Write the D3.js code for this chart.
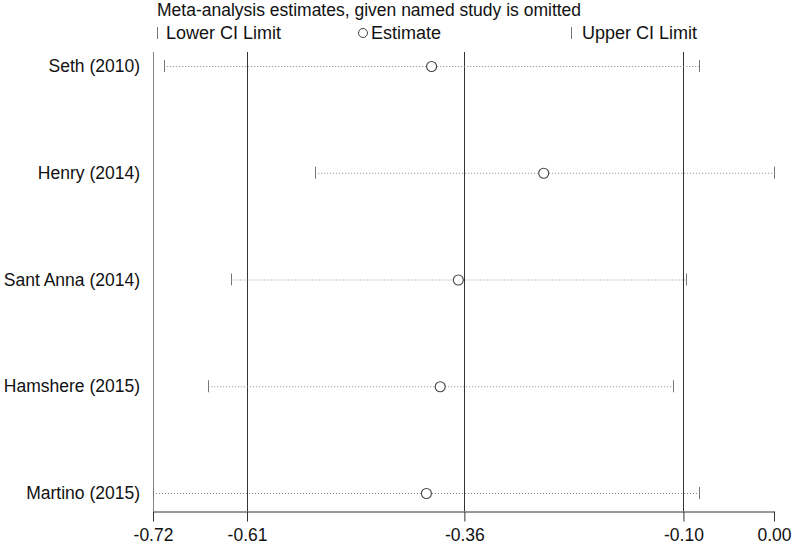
<!DOCTYPE html>
<html><head><meta charset="utf-8">
<script src="https://cdn.jsdelivr.net/npm/d3@7"></script>
<style>body{margin:0;background:#fff}svg{display:block;font-family:"Liberation Sans",Arial,sans-serif}</style>
</head><body><svg id="c" width="797" height="544"></svg>
<script>
const studies = ["Seth (2010)", "Henry (2014)", "Sant Anna (2014)", "Hamshere (2015)", "Martino (2015)"];
const lower = [-0.707, -0.532, -0.629, -0.656, -0.720];
const estimate = [-0.397, -0.267, -0.366, -0.387, -0.403];
const upper = [-0.087, 0.000, -0.102, -0.117, -0.087];
const refLines = [-0.72, -0.611, -0.359, -0.105];
const tickValues = [-0.72, -0.611, -0.359, -0.105, 0.00];
const tickLabels = ["-0.72", "-0.61", "-0.36", "-0.10", "0.00"];

const FS = 17.5;
const svg = d3.select("#c");
const x = d3.scaleLinear().domain([-0.72, 0]).range([153, 774]);
const y = d3.scalePoint().domain(studies).range([66, 493]);
const axisY = 511;

// title & legend
svg.append("text").attr("x", 157).attr("y", 16).attr("font-size", FS).attr("fill", "#111")
  .text("Meta-analysis estimates, given named study is omitted");
const leg = svg.append("g").attr("font-size", 18).attr("fill", "#111");
leg.append("line").attr("x1", 157.5).attr("x2", 157.5).attr("y1", 27).attr("y2", 39).attr("stroke", "#777");
leg.append("text").attr("x", 166).attr("y", 39).text("Lower CI Limit");
leg.append("circle").attr("cx", 363).attr("cy", 33).attr("r", 4.5).attr("fill", "none").attr("stroke", "#444");
leg.append("text").attr("x", 371).attr("y", 39).text("Estimate");
leg.append("line").attr("x1", 571.5).attr("x2", 571.5).attr("y1", 27).attr("y2", 39).attr("stroke", "#777");
leg.append("text").attr("x", 582).attr("y", 39).text("Upper CI Limit");

// reference vertical lines
svg.selectAll("line.ref").data(refLines).join("line").attr("class", "ref")
  .attr("x1", d => Math.round(x(d)) + 0.5).attr("x2", d => Math.round(x(d)) + 0.5)
  .attr("y1", 52).attr("y2", axisY)
  .attr("stroke", (d, i) => i === 0 ? "#888" : "#333").attr("stroke-width", 1);

// axis
const ax = svg.append("g").attr("transform", `translate(0,${axisY + 0.5})`)
  .call(d3.axisBottom(x).tickValues(tickValues).tickFormat((d, i) => tickLabels[i]).tickSize(10).tickSizeOuter(0));
ax.select(".domain").attr("stroke", "#333");
ax.selectAll(".tick line").attr("stroke", "#333");
ax.selectAll(".tick text").attr("font-size", FS).attr("fill", "#111").attr("dy", "0.95em")
  .attr("font-family", '"Liberation Sans",Arial,sans-serif');

// study labels
svg.selectAll("text.lab").data(studies).join("text").attr("class", "lab")
  .attr("x", 140).attr("y", d => y(d)).attr("dy", "0.35em").attr("text-anchor", "end")
  .attr("font-size", FS).attr("fill", "#111").text(d => d);

const rows = svg.selectAll("g.row").data(studies).join("g").attr("class", "row");
rows.append("line")
  .attr("x1", (d, i) => x(lower[i])).attr("x2", (d, i) => x(upper[i]))
  .attr("y1", d => y(d) + 0.5).attr("y2", d => y(d) + 0.5)
  .attr("stroke", "#888").attr("stroke-dasharray", "1,2");
rows.append("line")
  .attr("x1", (d, i) => Math.round(x(lower[i])) + 0.5).attr("x2", (d, i) => Math.round(x(lower[i])) + 0.5)
  .attr("y1", d => y(d) - 6).attr("y2", d => y(d) + 6).attr("stroke", "#777");
rows.append("line")
  .attr("x1", (d, i) => Math.round(x(upper[i])) + 0.5).attr("x2", (d, i) => Math.round(x(upper[i])) + 0.5)
  .attr("y1", d => y(d) - 6).attr("y2", d => y(d) + 6).attr("stroke", "#777");
rows.append("circle")
  .attr("cx", (d, i) => x(estimate[i])).attr("cy", d => y(d) + 0.5).attr("r", 5)
  .attr("fill", "#fff").attr("stroke", "#444").attr("stroke-width", 1.1);
</script></body></html>
